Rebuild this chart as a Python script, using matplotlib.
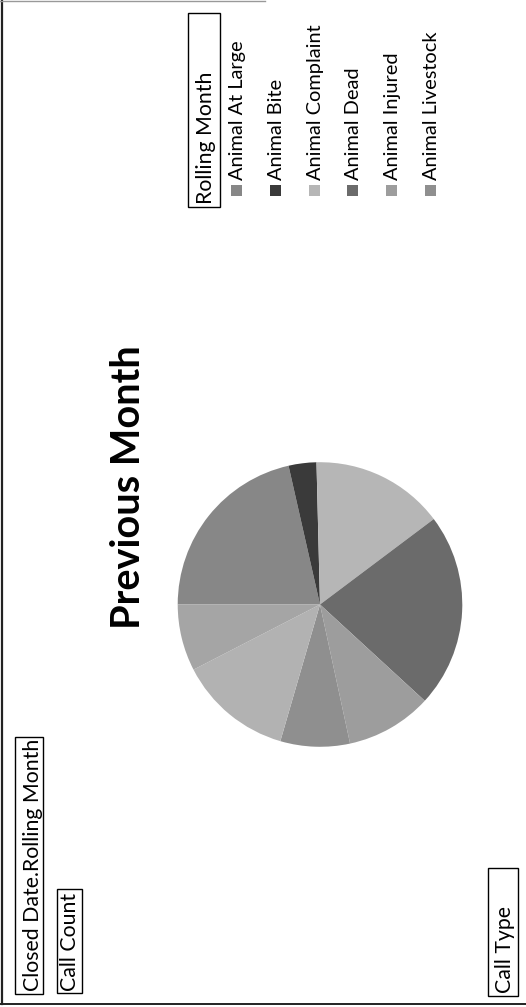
import matplotlib
matplotlib.use("Agg")
import matplotlib.pyplot as plt
from matplotlib.patches import Rectangle

# Call volumes by call type for the previous rolling month
call_types = ["Animal At Large", "Animal Bite", "Animal Complaint", "Animal Dead",
              "Animal Injured", "Animal Livestock", "Animal Welfare", "Animal Wildlife"]
call_counts = [68, 10, 48, 70, 31, 25, 41, 24]
slice_grays = ["#878787", "#3a3a3a", "#b6b6b6", "#6b6b6b",
               "#9d9d9d", "#8f8f8f", "#b2b2b2", "#a5a5a5"]
legend_shown = 6  # entries that fit in the legend area

chart_title = "Previous Month"
legend_title = "Rolling Month"
filter_field = "Closed Date.Rolling Month"
value_field = "Call Count"
axis_field = "Call Type"

W, H = 526, 1007
FONT = "Lato"
fig = plt.figure(figsize=(W / 100, H / 100), dpi=100)
fig.patch.set_facecolor("white")


def fx(x):
    return x / W


def fy(y):
    return 1 - y / H


def box(x0, y0, x1, y1, lw=1.0, ec="black", fc="none"):
    fig.add_artist(Rectangle((fx(x0), fy(y1)), (x1 - x0) / W, (y1 - y0) / H,
                             transform=fig.transFigure, lw=lw, ec=ec, fc=fc))


def vtext(x_base, y_start, s, size, weight="normal"):
    # text reading bottom-to-top, anchored at its start and baseline
    fig.text(fx(x_base), fy(y_start), s, rotation=90, rotation_mode="anchor",
             ha="left", va="baseline", fontsize=size, family=FONT,
             fontweight=weight, color="black")


# chart frame
fig.add_artist(plt.Line2D([fx(1.5), fx(1.5)], [fy(0), fy(1004)], transform=fig.transFigure,
                          color="#222222", lw=1.6))
fig.add_artist(plt.Line2D([fx(0), fx(526)], [fy(1004), fy(1004)], transform=fig.transFigure,
                          color="#222222", lw=1.4))
fig.add_artist(plt.Line2D([fx(0), fx(265)], [fy(0.5), fy(0.5)], transform=fig.transFigure,
                          color="#999999", lw=1.0))

# pie
cx, cy, r = 320, 604.5, 143
ax = fig.add_axes([fx(cx - r), fy(cy + r), 2 * r / W, 2 * r / H])
ax.pie(call_counts, colors=slice_grays, startangle=180, counterclock=False,
       radius=1, wedgeprops=dict(linewidth=0))
ax.set_xlim(-1.005, 1.005)
ax.set_ylim(-1.005, 1.005)
ax.axis("off")

# title
fig.text(fx(128), fy(487), chart_title, rotation=90, ha="center", va="center",
         fontsize=28.5, family=FONT, fontweight="bold")

# legend
BUTTON_SIZE = 15.3
LEGEND_SIZE = 14.4
box(188, 13, 220, 207)
vtext(212, 204, legend_title, BUTTON_SIZE)
step = 38.8
for i in range(legend_shown):
    x_top = 230 + i * step
    box(x_top + 1, 185, x_top + 12, 196, lw=0, fc=slice_grays[i])
    vtext(x_top + 13, 180, call_types[i], LEGEND_SIZE)

# field buttons
box(15, 737, 43, 994)
vtext(39, 991, filter_field, BUTTON_SIZE)
box(57, 889, 82, 993)
vtext(76, 991, value_field, BUTTON_SIZE)
box(488, 868, 518, 996)
vtext(511, 993, axis_field, BUTTON_SIZE)

fig.savefig("out.png", dpi=100, facecolor="white")
